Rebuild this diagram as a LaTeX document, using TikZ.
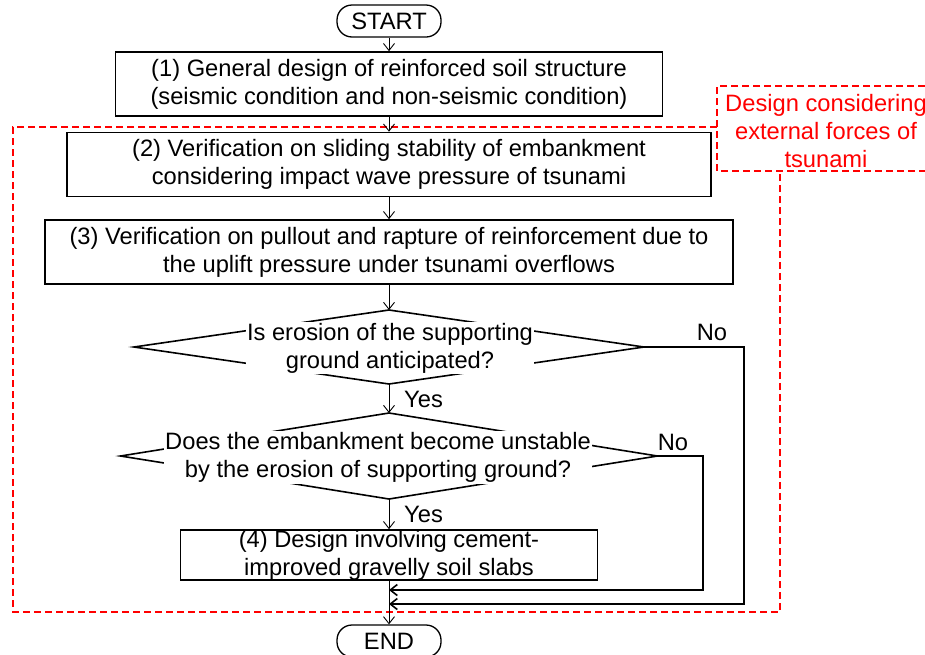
\documentclass[tikz,border=0pt]{standalone}
\usepackage{fontspec}
\setmainfont{Liberation Sans}
\usetikzlibrary{arrows.meta,positioning,shapes.geometric,backgrounds}

\begin{document}
\begin{tikzpicture}[
  x=1pt, y=-1pt, font=\fontsize{23.7}{28}\selectfont,
  term/.style={draw, line width=1.3pt, rounded corners=15pt,
               minimum width=104pt, minimum height=32pt, inner sep=0pt},
  stepbox/.style={draw, line width=1.6pt, minimum height=64pt,
                  inner sep=2pt, align=center},
  dia/.style={draw, diamond, line width=1.6pt, inner sep=0pt, outer sep=0pt},
  qtext/.style={fill=white, inner sep=1pt, align=center},
  ar/.style={-{Straight Barb[length=7pt, width=11pt]}, line width=0.9pt},
  noline/.style={line width=1.6pt},
  lbl/.style={inner sep=0pt},
  zone/.style={red, line width=1.5pt, dash pattern=on 7pt off 4pt}
]
\useasboundingbox (0,0) rectangle (925,654);

%--- main steps ---------------------------------------------------------------
\node[term] (start) at (389,21) {START};
\node[stepbox, minimum width=547pt] (s1) at (389,84)
  {(1) General design of reinforced soil structure\\(seismic condition and non-seismic condition)};
\node[stepbox, minimum width=644pt] (s2) at (389,164.5)
  {(2) Verification on sliding stability of embankment\\considering impact wave pressure of tsunami};
\node[stepbox, minimum width=688pt] (s3) at (389,252)
  {(3) Verification on pullout and rapture of reinforcement due to\\the uplift pressure under tsunami overflows};
\foreach \s/\d in {start/s1,s1/s2,s2/s3} \draw[ar] (\s) -- (\d);

%--- decisions ----------------------------------------------------------------
\node[dia, minimum width=510pt, minimum height=74pt] (d1) at (389,347) {};
\node[qtext] (q1) at (390,348) {Is erosion of the supporting\\ground anticipated?};
\node[dia, minimum width=537pt, minimum height=86pt] (d2) at (389,456) {};
\node[qtext] (q2) at (378,457.5)
  {Does the embankment become unstable\\by the erosion of supporting ground?};
\draw[ar] (s3.south) -- (d1.north);
\draw[ar] (d1.south) -- (d2.north);
\node[lbl, anchor=west] (y1) at (404,399) {Yes};

%--- slabs and end ------------------------------------------------------------
\node[stepbox, minimum width=417pt, minimum height=50pt, inner ysep=-2pt] (s4) at (389,555)
  {(4) Design involving cement-\\improved gravelly soil slabs};
\node[term] (end) at (389,641) {END};
\draw[ar] (d2.south) -- (s4.north);
\node[lbl, anchor=west] (y2) at (404,514) {Yes};
\draw[ar] (s4) -- (end);

%--- no branches --------------------------------------------------------------
\coordinate (j1) at (389,604);
\coordinate (j2) at (389,590);
\coordinate (c1) at (744,604);
\coordinate (c2) at (703,590);
\draw[ar, noline] (d1.east) -| (c1) -- (j1);
\draw[ar, noline] (d2.east) -| (c2) -- (j2);
\node[lbl] (n1) at (712,332) {No};
\node[lbl] (n2) at (673,442) {No};

%--- tsunami zone -------------------------------------------------------------
\node[red, align=center, inner sep=0pt] (zlbl) at (826,131)
  {Design considering\\external forces of\\tsunami};
\begin{scope}[on background layer]
  \draw[zone] (717,127) -| (13,612) -| (780,171);
  \draw[zone] (925,86) -| (717,171) -- (925,171);
\end{scope}
\end{tikzpicture}
\end{document}
